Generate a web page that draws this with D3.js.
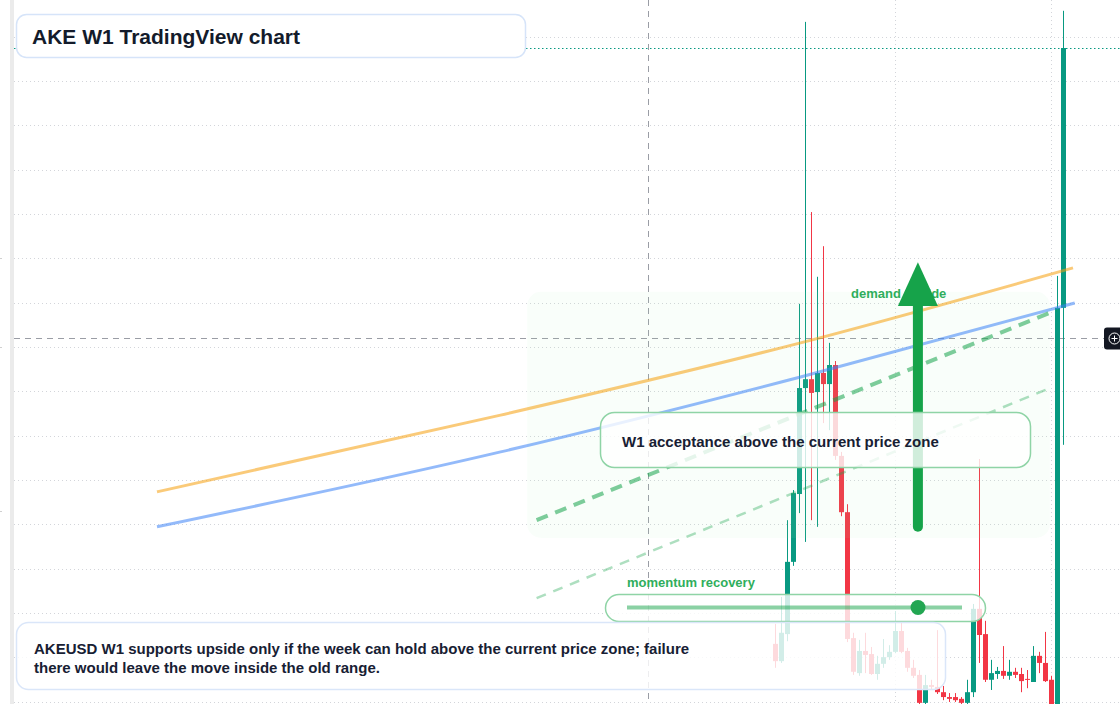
<!DOCTYPE html>
<html>
<head>
<meta charset="utf-8">
<script src="https://cdn.jsdelivr.net/npm/d3@7"></script>
<style>
html, body { margin: 0; padding: 0; background: #fff; }
svg { display: block; font-family: "Liberation Sans", Arial, sans-serif; }
</style>
</head>
<body>
<svg width="1120" height="704"></svg>
<script>
// weekly AKEUSD candles (Monday open)
const weeks = ['2024-08-12','2024-08-19','2024-08-26','2024-09-02','2024-09-09','2024-09-16','2024-09-23','2024-09-30',
  '2024-10-07','2024-10-14','2024-10-21','2024-10-28','2024-11-04','2024-11-11','2024-11-18','2024-11-25',
  '2024-12-02','2024-12-09','2024-12-16','2024-12-23','2024-12-30','2025-01-06','2025-01-13','2025-01-20',
  '2025-01-27','2025-02-03','2025-02-10','2025-02-17','2025-02-24','2025-03-03','2025-03-10','2025-03-17',
  '2025-03-24','2025-03-31','2025-04-07','2025-04-14','2025-04-21','2025-04-28','2025-05-05','2025-05-12',
  '2025-05-19','2025-05-26','2025-06-02','2025-06-09','2025-06-16','2025-06-23','2025-06-30','2025-07-07','2025-07-14'];
const open  = [0.01130,0.01091,0.01152,0.01315,0.01468,0.01707,0.01727,0.01698,0.01741,0.01716,0.01759,0.01554,
  0.01427,0.01143,0.01064,0.01114,0.01107,0.01062,0.01085,0.01100,0.01112,0.01159,0.01114,0.01076,0.01060,
  0.00997,0.01037,0.01033,0.01021,0.01010,0.01010,0.01006,0.00997,0.01021,0.01209,0.01152,0.01049,0.01062,
  0.01069,0.01058,0.01067,0.01062,0.01051,0.01044,0.01103,0.01087,0.01049,0.00958,0.01888];
const high  = [0.01175,0.01236,0.01409,0.01477,0.01897,0.02533,0.02104,0.01958,0.02027,0.01809,0.01768,0.01563,
  0.01445,0.01155,0.01139,0.01155,0.01123,0.01103,0.01141,0.01127,0.01204,0.01179,0.01121,0.01094,0.01071,
  0.01060,0.01049,0.01161,0.01035,0.01019,0.01019,0.01010,0.01049,0.01220,0.01547,0.01182,0.01094,0.01078,
  0.01125,0.01094,0.01076,0.01076,0.01071,0.01125,0.01112,0.01157,0.01058,0.01960,0.02558];
const low   = [0.01076,0.01087,0.01136,0.01306,0.01425,0.01360,0.01409,0.01394,0.01628,0.01612,0.01545,0.01418,
  0.01134,0.01060,0.01058,0.01064,0.01060,0.01049,0.01076,0.01094,0.01109,0.01109,0.01067,0.01053,0.00990,
  0.00990,0.01026,0.01017,0.01003,0.00999,0.00999,0.00990,0.00990,0.01010,0.01087,0.01044,0.01026,0.01051,
  0.01051,0.01049,0.01053,0.01021,0.01030,0.01044,0.01064,0.01044,0.00947,0.00947,0.01579];
const close = [0.01091,0.01155,0.01315,0.01470,0.01707,0.01727,0.01696,0.01741,0.01716,0.01759,0.01554,0.01427,
  0.01141,0.01067,0.01114,0.01105,0.01062,0.01085,0.01100,0.01112,0.01159,0.01112,0.01076,0.01058,0.00997,
  0.01037,0.01033,0.01021,0.01010,0.01006,0.01003,0.00997,0.01021,0.01209,0.01150,0.01049,0.01064,0.01069,
  0.01058,0.01067,0.01060,0.01046,0.01049,0.01103,0.01087,0.01046,0.00958,0.01888,0.02474];

// price grid + time grid
const priceTicks = [0.010,0.011,0.012,0.013,0.014,0.015,0.016,0.017,0.018,0.019,0.020,0.021,0.022,0.023,0.024,0.025];
const timeTicks = ['2024-12-30','2025-06-30'];

// overlays drawn on the chart (date, price)
const emaSlowDates = ['2022-08-21','2023-09-26','2024-09-10','2025-07-25'];
const emaSlow = [0.01473,0.01646,0.01809,0.01978];
const emaFastDates = ['2022-08-21','2023-09-26','2024-09-10','2025-07-27'];
const emaFast = [0.01394,0.01563,0.01732,0.01899];
const trendDates = ['2023-11-07','2025-07-06'];
const trendUpper = [0.01409,0.01883];
const trendLowerDates = ['2023-11-07','2025-06-28'];
const trendLower = [0.01233,0.01707];
const zoneDates = ['2023-10-27','2025-06-28'];
const zonePrices = [0.01369,0.01924];
const arrowDate = '2025-01-25';
const arrowPrices = [0.01394,0.01892,0.01991];
const crossDate = '2024-03-17';
const crossPrice = 0.01820;

const svg = d3.select('svg');
const W = 1120, H = 704;

const x = d3.scaleUtc().domain([new Date('2022-08-21'), new Date('2025-07-25')]).range([157, 1073]);
const y = d3.scaleLinear().domain([0.010, 0.025]).range([701.5, 36.5]);
const d = s => new Date(s);

const candles = weeks.map((w, i) => ({ date: d(w), o: open[i], h: high[i], l: low[i], c: close[i] }));

// left edge strip
svg.append('rect').attr('x', 10).attr('y', 0).attr('width', 4).attr('height', H).attr('fill', '#ebebeb');
svg.selectAll('.ltick').data([0.0200, 0.0180, 0.0143]).enter().append('line')
  .attr('x1', 0).attr('x2', 2).attr('y1', p => Math.round(y(p)) + 0.5).attr('y2', p => Math.round(y(p)) + 0.5)
  .attr('stroke', '#d0d0d0');

// grid
const grid = svg.append('g');
grid.selectAll('.hg').data(priceTicks).enter().append('line')
  .attr('x1', 14).attr('x2', W)
  .attr('y1', p => Math.round(y(p)) + 0.5).attr('y2', p => Math.round(y(p)) + 0.5)
  .attr('stroke', '#d3d5da').attr('stroke-dasharray', '1,3');
grid.selectAll('.vg').data(timeTicks).enter().append('line')
  .attr('x1', t => Math.floor(x(d(t))) + 0.5).attr('x2', t => Math.floor(x(d(t))) + 0.5)
  .attr('y1', 0).attr('y2', H)
  .attr('stroke', '#d3d5da').attr('stroke-dasharray', '1,3');

// last price line
const lastY = Math.round(y(close[close.length - 1])) + 0.5;
svg.append('line').attr('x1', 14).attr('x2', W).attr('y1', lastY).attr('y2', lastY)
  .attr('stroke', '#089981').attr('stroke-width', 1.2).attr('stroke-dasharray', '1.5,2.5');

// crosshair
const cx = Math.floor(x(d(crossDate))) + 0.5, cy = Math.round(y(crossPrice)) + 0.5;
svg.append('line').attr('x1', cx).attr('x2', cx).attr('y1', 0).attr('y2', H)
  .attr('stroke', '#9a9da5').attr('stroke-dasharray', '6,5');
svg.append('line').attr('x1', 14).attr('x2', 1104).attr('y1', cy).attr('y2', cy)
  .attr('stroke', '#9a9da5').attr('stroke-dasharray', '6,5');

// candles
const up = '#089981', down = '#f23645';
const cg = svg.append('g');
cg.selectAll('.wick').data(candles).enter().append('rect')
  .attr('x', c => Math.floor(x(c.date)))
  .attr('y', c => y(c.h))
  .attr('width', 1)
  .attr('height', c => y(c.l) - y(c.h))
  .attr('fill', c => c.c >= c.o ? up : down);
cg.selectAll('.body').data(candles).enter().append('rect')
  .attr('x', c => Math.floor(x(c.date)) - 2)
  .attr('y', c => y(Math.max(c.o, c.c)))
  .attr('width', 5)
  .attr('height', c => Math.max(1, Math.abs(y(c.o) - y(c.c))))
  .attr('fill', c => c.c >= c.o ? up : down);

// demand zone
svg.append('rect')
  .attr('x', x(d(zoneDates[0]))).attr('y', y(zonePrices[1]))
  .attr('width', x(d(zoneDates[1])) - x(d(zoneDates[0])))
  .attr('height', y(zonePrices[0]) - y(zonePrices[1]))
  .attr('rx', 14)
  .attr('fill', 'rgb(165,235,185)').attr('fill-opacity', 0.07);

// moving averages
const ma = d3.line().x(p => x(d(p[0]))).y(p => y(p[1])).curve(d3.curveMonotoneX);
svg.append('path').attr('d', ma(d3.zip(emaSlowDates, emaSlow)))
  .attr('fill', 'none').attr('stroke', '#f59e0b').attr('stroke-opacity', 0.55).attr('stroke-width', 3);
svg.append('path').attr('d', ma(d3.zip(emaFastDates, emaFast)))
  .attr('fill', 'none').attr('stroke', '#3b82f6').attr('stroke-opacity', 0.55).attr('stroke-width', 3);

// trend channel
svg.append('path').attr('d', ma(d3.zip(trendDates, trendUpper)))
  .attr('fill', 'none').attr('stroke', '#16a34a').attr('stroke-opacity', 0.55)
  .attr('stroke-width', 4).attr('stroke-dasharray', '12,8');
svg.append('path').attr('d', ma(d3.zip(trendLowerDates, trendLower)))
  .attr('fill', 'none').attr('stroke', '#16a34a').attr('stroke-opacity', 0.35)
  .attr('stroke-width', 2.5).attr('stroke-dasharray', '10,8');

// upside arrow
const ax = x(d(arrowDate));
svg.append('text').attr('x', 851).attr('y', 298)
  .attr('font-size', 13).attr('font-weight', 700).attr('fill', '#2fae5c')
  .text('demand upside');
svg.append('line').attr('x1', ax).attr('x2', ax)
  .attr('y1', y(arrowPrices[0])).attr('y2', y(arrowPrices[1]))
  .attr('stroke', '#16a34a').attr('stroke-width', 10).attr('stroke-linecap', 'round');
svg.append('path')
  .attr('d', `M${ax},${y(arrowPrices[2])} L${ax + 20},${y(arrowPrices[1])} L${ax - 20},${y(arrowPrices[1])} Z`)
  .attr('fill', '#16a34a');

// W1 acceptance callout
svg.append('rect').attr('x', 600.5).attr('y', 412.5).attr('width', 430).attr('height', 55).attr('rx', 14)
  .attr('fill', '#fff').attr('fill-opacity', 0.8)
  .attr('stroke', '#8fd4a6').attr('stroke-width', 1.5);
svg.append('text').attr('x', 622).attr('y', 446.5)
  .attr('font-size', 15).attr('font-weight', 700).attr('fill', '#172033')
  .text('W1 acceptance above the current price zone');

// momentum recovery
svg.append('text').attr('x', 627).attr('y', 587)
  .attr('font-size', 13).attr('font-weight', 700).attr('fill', '#2fae5c')
  .text('momentum recovery');
svg.append('rect').attr('x', 605.5).attr('y', 594.5).attr('width', 380).attr('height', 27).attr('rx', 13.5)
  .attr('fill', '#fff').attr('fill-opacity', 0.8)
  .attr('stroke', '#8fd4a6').attr('stroke-width', 1.5);
svg.append('line').attr('x1', 627).attr('x2', 962).attr('y1', 607.5).attr('y2', 607.5)
  .attr('stroke', '#16a34a').attr('stroke-opacity', 0.5).attr('stroke-width', 4);
svg.append('circle').attr('cx', 918).attr('cy', 607.5).attr('r', 7.5).attr('fill', '#22a652');

// note box
svg.append('rect').attr('x', 16.5).attr('y', 622.5).attr('width', 929).attr('height', 67).attr('rx', 12)
  .attr('fill', '#fff').attr('fill-opacity', 0.82)
  .attr('stroke', '#dae6f9').attr('stroke-width', 1.5);
const note = svg.append('text').attr('font-size', 15).attr('font-weight', 700).attr('fill', '#172033');
note.append('tspan').attr('x', 34).attr('y', 653.5)
  .text('AKEUSD W1 supports upside only if the week can hold above the current price zone; failure');
note.append('tspan').attr('x', 34).attr('y', 672.5)
  .text('there would leave the move inside the old range.');

// title
svg.append('rect').attr('x', 16.5).attr('y', 14.5).attr('width', 509).attr('height', 43).attr('rx', 10)
  .attr('fill', '#fff').attr('stroke', '#d6e4f9').attr('stroke-width', 1.5);
svg.append('text').attr('x', 32).attr('y', 43.5)
  .attr('font-size', 21).attr('font-weight', 700).attr('fill', '#131b2b')
  .text('AKE W1 TradingView chart');

// crosshair price badge
const badge = svg.append('g');
badge.append('rect').attr('x', 1104).attr('y', cy - 11).attr('width', 20).attr('height', 22).attr('rx', 3).attr('fill', '#131722');
badge.append('circle').attr('cx', 1114.5).attr('cy', cy).attr('r', 5.5).attr('fill', 'none').attr('stroke', '#fff').attr('stroke-width', 1);
badge.append('line').attr('x1', 1111.5).attr('x2', 1117.5).attr('y1', cy).attr('y2', cy).attr('stroke', '#fff');
badge.append('line').attr('x1', 1114.5).attr('x2', 1114.5).attr('y1', cy - 3).attr('y2', cy + 3).attr('stroke', '#fff');
</script>
</body>
</html>
